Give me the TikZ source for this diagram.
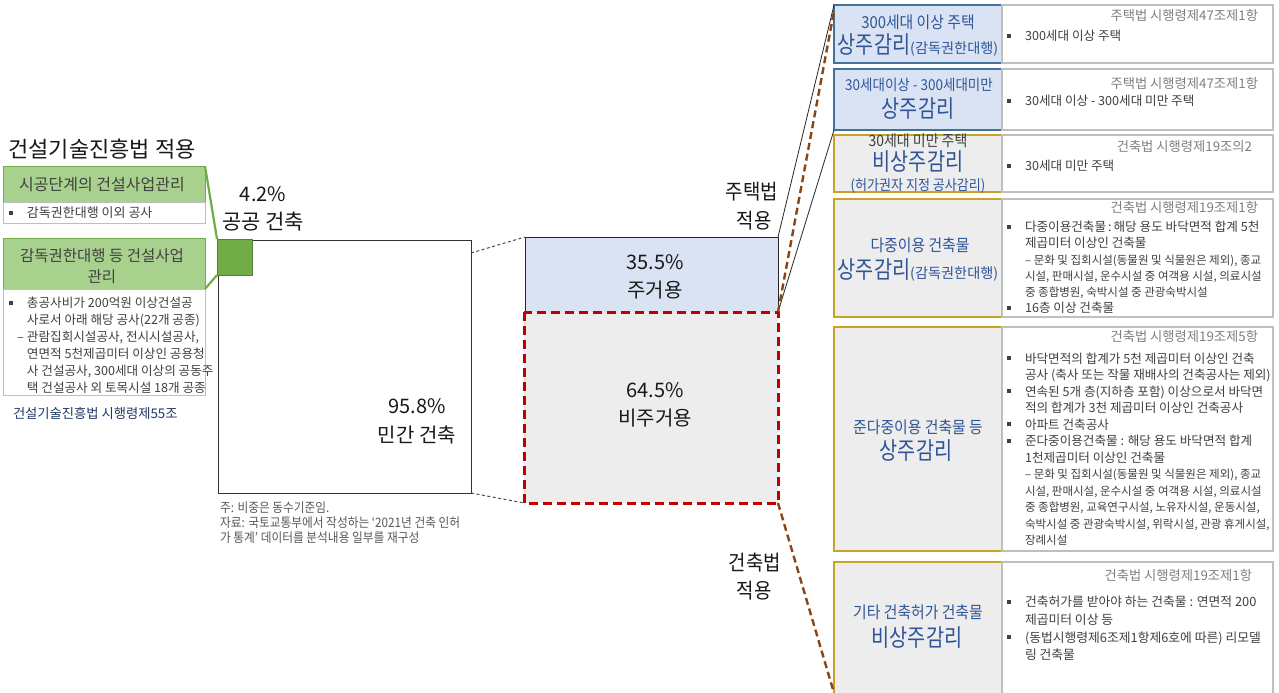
\documentclass[tikz,border=0pt]{standalone}
\usepackage{fontspec}
\setmainfont{Noto Sans CJK KR}
\newfontfamily\krn{Noto Sans CJK KR}
\newfontfamily\krc{Noto Sans CJK KR}[FakeStretch=0.9]
\newfontfamily\krcc{Noto Sans CJK KR}[FakeStretch=0.82]
\usetikzlibrary{calc}
\definecolor{lgreen}{HTML}{A9D18E}
\definecolor{dgreen}{HTML}{70AD47}
\definecolor{sqgreen}{HTML}{70AD47}
\definecolor{sqedge}{HTML}{548235}
\definecolor{tgray}{HTML}{404040}
\definecolor{fgray}{HTML}{595959}
\definecolor{rgray}{HTML}{7F7F7F}
\definecolor{lblue}{HTML}{DAE3F3}
\definecolor{bblue}{HTML}{41719C}
\definecolor{tblue}{HTML}{2F5597}
\definecolor{navy}{HTML}{1F3864}
\definecolor{lgray}{HTML}{EDEDED}
\definecolor{gold}{HTML}{C9A227}
\definecolor{bgray}{HTML}{BFBFBF}
\definecolor{dred}{HTML}{C00000}
\definecolor{sbrown}{HTML}{8B4513}
\newcommand\bu{\llap{\textcolor{tgray}{\rule[3pt]{4pt}{4pt}}\hspace{14pt}}}
\newcommand\subl[1]{{\fontsize{11.5}{16.5}\selectfont #1}}
\tikzset{
  every node/.style={inner sep=0pt, outer sep=0pt},
  gbox/.style={draw=dgreen, fill=lgreen, line width=1pt, anchor=north west},
  wbox/.style={draw=bgray, fill=white, line width=1pt, anchor=north west},
  bbox/.style={draw=bblue, fill=lblue, line width=1.2pt, anchor=north west},
  ybox/.style={draw=gold, fill=lgray, line width=1.2pt, anchor=north west},
  rbox/.style={draw=bgray, fill=white, line width=1.5pt, anchor=north west},
  body/.style={text=tgray, align=left, anchor=west, font=\krn\fontsize{12.6}{16.5}\selectfont},
  refl/.style={text=rgray, anchor=east, font=\krn\fontsize{13.3}{16}\selectfont},
  blab/.style={text=tblue, font=\krc\fontsize{16.5}{20}\selectfont},
  big/.style={text=tblue, font=\krcc\fontsize{24}{28}\selectfont},
  mid/.style={text=black!90, font=\krn\fontsize{20}{28}\selectfont},
  law/.style={text=black!90, font=\krc\fontsize{21}{28}\selectfont},
  glab/.style={text=tgray, align=center},
  conn/.style={black!85, line width=0.8pt},
  bconn/.style={sbrown, line width=2.4pt, dash pattern=on 7pt off 4pt},
  gconn/.style={dgreen, line width=2.2pt},
  dconn/.style={black!70, line width=1pt, dash pattern=on 3pt off 2.5pt},
}
\begin{document}
\begin{tikzpicture}[x=1pt,y=-1pt]
\fill[white] (0,0) rectangle (1279,693);
\useasboundingbox (0,0) rectangle (1279,693);

% ---------- left panel ----------
\node[text=black!90, font=\krn\fontsize{22}{26}\selectfont] (title) at (102,149) {건설기술진흥법 적용};
\node[gbox, minimum width=202pt, minimum height=36pt] (g1) at (3,166) {};
\node[glab, font=\krn\fontsize{16}{20}\selectfont] (g1t) at (102,185) {시공단계의 건설사업관리};
\node[wbox, minimum width=202pt, minimum height=21pt] (w1) at (3,202) {};
\node[body, font=\krn\fontsize{13}{16}\selectfont] (w1t) at (27,213) {\bu 감독권한대행 이외 공사};
\node[gbox, minimum width=202pt, minimum height=51pt] (g2) at (3,238) {};
\node[glab, font=\krn\fontsize{15.5}{21}\selectfont] (g2t) at (102,266.5) {감독권한대행 등 건설사업\\관리};
\node[wbox, minimum width=202pt, minimum height=106pt] (w2) at (3,289) {};
\node[body, font=\krn\fontsize{12.6}{17}\selectfont] (w2t) at (27,345.5) {\bu 총공사비가 200억원 이상건설공\\
사로서 아래 해당 공사(22개 공종)\\
\llap{–\hspace{3pt}}관람집회시설공사, 전시시설공사,\\
연면적 5천제곱미터 이상인 공용청\\
사 건설공사, 300세대 이상의 공동주\\
택 건설공사 외 토목시설 18개 공종};
\node[text=navy, anchor=west, font=\krn\fontsize{13.3}{16}\selectfont] (lawl) at (13,413) {건설기술진흥법 시행령제55조};

% ---------- middle ----------
\node[draw=black!80, line width=1pt, fill=white, anchor=north west, minimum width=253pt, minimum height=253pt] (W) at (218,240) {};
\node[draw=sqedge, fill=sqgreen, line width=0.8pt, anchor=north west, minimum width=35pt, minimum height=36pt] (sq) at (217,239) {};
\draw[gconn] (g1.north east) -- (sq.north west);
\draw[gconn] (sq.south west) -- (g2.south east);
\node[mid] (p42) at (263,194) {4.2\%};
\node[mid, font=\krn\fontsize{21}{28}\selectfont] (pub) at (263,222) {공공 건축};
\node[mid] (p958) at (417,406) {95.8\%};
\node[mid] (pri) at (417,435) {민간 건축};
\node[text=fgray, align=left, anchor=west, font=\krc\fontsize{13}{15}\selectfont] (note) at (220,523) {주: 비중은 동수기준임.\\
자료: 국토교통부에서 작성하는 ‘2021년 건축 인허\\
가 통계’ 데이터를 분석내용 일부를 재구성};

\node[draw=black!85, line width=1pt, fill=lblue, anchor=north west, minimum width=253pt, minimum height=75pt] (res) at (525,237) {};
\node[fill=lgray, anchor=north west, minimum width=254pt, minimum height=191pt] (non) at (524,312) {};
\draw[dred, line width=3pt, dash pattern=on 9pt off 5pt] (non.north west) rectangle (non.south east);
\node[mid] (p355) at (655,262) {35.5\%};
\node[mid] (resl) at (655,290) {주거용};
\node[mid] (p645) at (655,390) {64.5\%};
\node[mid] (nonl) at (655,418) {비주거용};
\draw[dconn] ($(W.north east)+(0,13)$) -- (res.north west);
\draw[dconn] (W.south east) -- (non.south west);

\node[law] (hl1) at (752,192) {주택법};
\node[law] (hl2) at (754,221) {적용};
\node[law] (bl1) at (755,563) {건축법};
\node[law] (bl2) at (754,591) {적용};

% ---------- right column ----------
\node[bbox, minimum width=168pt, minimum height=58pt] (A) at (834,5) {};
\node[rbox, minimum width=271pt, minimum height=58pt] (Ar) at (1002,5) {};
\node[bbox, minimum width=168pt, minimum height=61pt] (B) at (834,69) {};
\node[rbox, minimum width=271pt, minimum height=61pt] (Br) at (1002,69) {};
\node[ybox, minimum width=168pt, minimum height=57pt] (C) at (834,135) {};
\node[rbox, minimum width=271pt, minimum height=57pt] (Cr) at (1002,135) {};
\node[ybox, minimum width=168pt, minimum height=118pt] (D) at (834,199) {};
\node[rbox, minimum width=271pt, minimum height=118pt] (Dr) at (1002,199) {};
\node[ybox, minimum width=168pt, minimum height=224pt] (E) at (834,327) {};
\node[rbox, minimum width=271pt, minimum height=224pt] (Er) at (1002,327) {};
\node[ybox, minimum width=168pt, minimum height=140pt] (F) at (834,562) {};
\node[rbox, minimum width=271pt, minimum height=140pt] (Fr) at (1002,562) {};

% labels A
\node[blab] (At1) at (918,22) {300세대 이상 주택};
\node[anchor=base, text=tblue] (At2) at (918,53) {{\krcc\fontsize{24}{28}\selectfont 상주감리}{\krn\fontsize{14.2}{16}\selectfont(감독권한대행)}};
\node[refl] (Aref) at (1258,16) {주택법 시행령제47조제1항};
\node[body] (Atx) at (1025,36) {\bu 300세대 이상 주택};
% B
\node[text=tblue, font=\krc\fontsize{15}{18}\selectfont] (Bt1) at (919,85) {30세대이상 - 300세대미만};
\node[big] (Bt2) at (918,109) {상주감리};
\node[refl] (Bref) at (1258,84) {주택법 시행령제47조제1항};
\node[body] (Btx) at (1025,101) {\bu 30세대 이상 - 300세대 미만 주택};
% C
\node[text=tgray, font=\krc\fontsize{15.5}{18}\selectfont] (Ct1) at (918,141) {30세대 미만 주택};
\node[big] (Ct2) at (918,162) {비상주감리};
\node[text=tblue, font=\krc\fontsize{14.5}{16}\selectfont] (Ct3) at (918,186) {(허가권자 지정 공사감리)};
\node[refl] (Cref) at (1252,147) {건축법 시행령제19조의2};
\node[body] (Ctx) at (1025,166) {\bu 30세대 미만 주택};
% D
\node[blab] (Dt1) at (920,245) {다중이용 건축물};
\node[anchor=base, text=tblue] (Dt2) at (918,278) {{\krcc\fontsize{24}{28}\selectfont 상주감리}{\krn\fontsize{14.2}{16}\selectfont(감독권한대행)}};
\node[refl] (Dref) at (1258,208) {건축법 시행령제19조제1항};
\node[body, font=\krn\fontsize{12.6}{16.2}\selectfont] (Dtx) at (1025,267.5) {\bu 다중이용건축물\hspace{2pt}:\hspace{2pt}해당 용도 바닥면적 합계 5천\\
제곱미터 이상인 건축물\\
\subl{– 문화 및 집회시설(동물원 및 식물원은 제외), 종교}\\
\subl{시설, 판매시설, 운수시설 중 여객용 시설, 의료시설}\\
\subl{중 종합병원, 숙박시설 중 관광숙박시설}\\
\bu 16층 이상 건축물};
% E
\node[blab] (Et1) at (918,427) {준다중이용 건축물 등};
\node[big] (Et2) at (916,451) {상주감리};
\node[refl] (Eref) at (1258,337) {건축법 시행령제19조제5항};
\node[body] (Etx) at (1025,449) {\bu 바닥면적의 합계가 5천 제곱미터 이상인 건축\\
공사 (축사 또는 작물 재배사의 건축공사는 제외)\\
\bu 연속된 5개 층(지하층 포함) 이상으로서 바닥면\\
적의 합계가 3천 제곱미터 이상인 건축공사\\
\bu 아파트 건축공사\\
\bu 준다중이용건축물 : 해당 용도 바닥면적 합계\\
1천제곱미터 이상인 건축물\\
\subl{– 문화 및 집회시설(동물원 및 식물원은 제외), 종교}\\
\subl{시설, 판매시설, 운수시설 중 여객용 시설, 의료시설}\\
\subl{중 종합병원, 교육연구시설, 노유자시설, 운동시설,}\\
\subl{숙박시설 중 관광숙박시설, 위락시설, 관광 휴게시설,}\\
\subl{장례시설}};
% F
\node[blab] (Ft1) at (918,612) {기타 건축허가 건축물};
\node[big] (Ft2) at (917,638) {비상주감리};
\node[refl] (Fref) at (1252,575) {건축법 시행령제19조제1항};
\node[body, font=\krn\fontsize{12.8}{17.7}\selectfont] (Ftx) at (1025,628.5) {\bu 건축허가를 받아야 하는 건축물 : 연면적 200\\
제곱미터 이상 등\\
\bu (동법시행령제6조제1항제6호에 따른) 리모델\\
링 건축물};

% ---------- connectors to right column ----------
\coordinate (fend) at (834,693);
\draw[conn] (res.north east) -- (A.north west);
\draw[conn] (res.south east) -- (B.south west);
\draw[bconn] (non.north east) -- ($(A.north west)+(0,6)$);
\draw[bconn] (non.south east) -- (fend);
\end{tikzpicture}
\end{document}
